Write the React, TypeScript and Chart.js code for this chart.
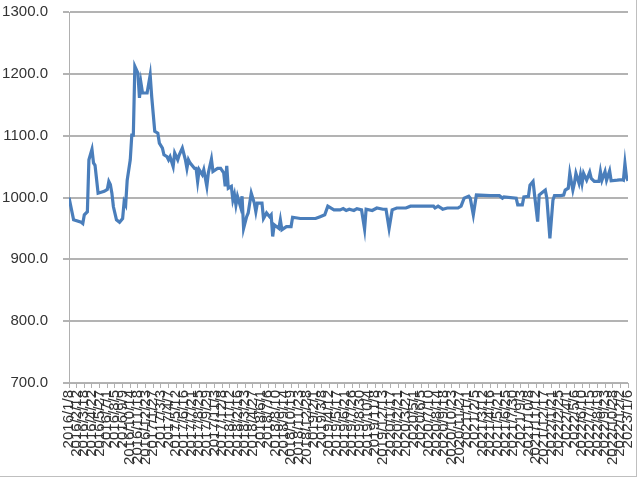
import { useEffect, useRef } from "react";
import { Chart, registerables } from "chart.js";

Chart.register(...registerables);

// x-axis tick labels (one every 5 weeks)
const tickDates = [
  "2016/1/8", "2016/2/12", "2016/3/18", "2016/4/22", "2016/5/27", "2016/7/1", "2016/8/5", "2016/9/9",
  "2016/10/14", "2016/11/18", "2016/12/23", "2017/1/27", "2017/3/3", "2017/4/7", "2017/5/12", "2017/6/16",
  "2017/7/21", "2017/8/25", "2017/9/29", "2017/11/3", "2017/12/8", "2018/1/12", "2018/2/16", "2018/3/23",
  "2018/4/27", "2018/6/1", "2018/7/6", "2018/8/10", "2018/9/14", "2018/10/19", "2018/11/23", "2018/12/28",
  "2019/2/1", "2019/3/8", "2019/4/12", "2019/5/17", "2019/6/21", "2019/7/26", "2019/8/30", "2019/10/4",
  "2019/11/8", "2019/12/13", "2020/1/17", "2020/2/21", "2020/3/27", "2020/5/1", "2020/6/5", "2020/7/10",
  "2020/8/14", "2020/9/18", "2020/10/23", "2020/11/27", "2021/1/1", "2021/2/5", "2021/3/12", "2021/4/16",
  "2021/5/21", "2021/6/25", "2021/7/30", "2021/9/3", "2021/10/8", "2021/11/12", "2021/12/17", "2022/1/21",
  "2022/2/25", "2022/4/1", "2022/5/6", "2022/6/10", "2022/7/15", "2022/8/19", "2022/9/23", "2022/10/28",
  "2022/12/2", "2023/1/6",
];
const weeksPerTick = 5;

// observations: week index since 2016/1/8, and value
const sampleWeeks = [
  0, 3, 8, 9, 10, 12, 13, 15, 16, 17, 19, 23, 25, 26, 27, 28, 29, 31, 33, 35,
  36, 37, 38, 40, 41, 42, 43, 45, 46, 47, 48, 51, 53, 54, 56, 58, 59, 61, 62, 64,
  65, 66, 68, 69, 71, 72, 74, 76, 77, 78, 79, 82, 83, 84, 85, 87, 88, 90, 91, 93,
  94, 97, 99, 101, 102, 103, 104, 106, 107, 108, 109, 110, 112, 113, 114, 116, 117, 119, 121, 122,
  123, 126, 127, 129, 131, 132, 133, 134, 137, 138, 139, 142, 145, 146, 151, 161, 164, 167, 169, 173,
  177, 179, 181, 183, 186, 188, 191, 193, 194, 198, 201, 205, 207, 209, 211, 214, 220, 223, 238, 239,
  241, 243, 244, 247, 254, 256, 258, 261, 262, 264, 266, 275, 281, 283, 284, 292, 293, 296, 297, 300,
  301, 303, 304, 306, 307, 310, 311, 312, 314, 316, 317, 321, 323, 324, 326, 327, 329, 330, 331, 333,
  334, 335, 336, 338, 340, 341, 343, 346, 347, 348, 350, 351, 353, 354, 358, 361, 362, 363, 364, 365,
];
const navValues = [
  1000, 964, 960, 958, 972, 977, 1061, 1078, 1056, 1052, 1007, 1010, 1013, 1026, 1021, 1007, 985, 964, 960, 966,
  993, 988, 1028, 1061, 1101, 1101, 1212, 1201, 1161, 1185, 1169, 1169, 1198, 1163, 1107, 1104, 1088, 1080, 1069, 1066,
  1061, 1066, 1050, 1072, 1061, 1069, 1080, 1061, 1047, 1061, 1056, 1047, 1047, 1026, 1045, 1037, 1045, 1018, 1040, 1062,
  1042, 1047, 1047, 1040, 1018, 1051, 1015, 1018, 996, 1005, 988, 1002, 985, 1002, 950, 969, 975, 1007, 991, 977,
  991, 991, 966, 975, 969, 972, 937, 956, 950, 964, 948, 953, 953, 968, 966, 966, 969, 972, 986, 980,
  980, 982, 979, 981, 979, 982, 980, 949, 981, 979, 983, 981, 981, 950, 980, 983, 983, 986, 986, 983,
  986, 983, 981, 983, 983, 986, 999, 1002, 999, 972, 1004, 1003, 1003, 999, 1001, 999, 988, 988, 1001, 1002,
  1020, 1026, 1004, 961, 1004, 1010, 1012, 999, 934, 996, 1003, 1003, 1004, 1012, 1015, 1039, 1012, 1023, 1039, 1023,
  1037, 1023, 1039, 1028, 1041, 1031, 1026, 1026, 1042, 1028, 1042, 1028, 1043, 1027, 1028, 1029, 1028, 1055, 1033, 1027,
];

const fontSpec = { family: "'Liberation Sans', Arial, sans-serif", size: 15 };
const textColor = "#333333";

export default function App() {
  const ref = useRef<HTMLCanvasElement>(null);

  useEffect(() => {
    document.body.style.margin = "0";
    const canvas = ref.current;
    if (!canvas) return;
    const chart = new Chart(canvas, {
      type: "line",
      data: {
        datasets: [
          {
            data: sampleWeeks.map((w, i) => ({ x: w, y: navValues[i] })),
            borderColor: "#4a7ebb",
            borderWidth: 3.2,
            pointRadius: 0,
            tension: 0,
            fill: false,
          },
        ],
      },
      options: {
        animation: false,
        responsive: false,
        maintainAspectRatio: false,
        layout: { padding: { top: 12, right: 12, left: 0, bottom: 0 } },
        plugins: { legend: { display: false }, tooltip: { enabled: false } },
        scales: {
          x: {
            type: "linear",
            min: 0,
            max: (tickDates.length - 1) * weeksPerTick,
            afterBuildTicks: (s: any) => {
              s.ticks = tickDates.map((_, i) => ({ value: i * weeksPerTick }));
            },
            afterFit: (s: any) => {
              s.height = 97;
              s.paddingLeft = 0;
              s.paddingRight = 0;
            },
            ticks: {
              autoSkip: false,
              maxRotation: 90,
              minRotation: 90,
              padding: 2,
              font: fontSpec,
              color: textColor,
              callback: (v: any) => tickDates[Math.round(Number(v) / weeksPerTick)],
            },
            grid: { drawOnChartArea: false, drawTicks: true, tickLength: 5, color: "#b0b0b0" },
            border: { color: "#b0b0b0", width: 1 },
          },
          y: {
            min: 700,
            max: 1300,
            afterFit: (s: any) => {
              s.width = 69;
              s.paddingTop = 0;
              s.paddingBottom = 0;
            },
            ticks: {
              stepSize: 100,
              padding: 15,
              font: fontSpec,
              color: textColor,
              callback: (v: any) => Number(v).toFixed(1),
            },
            grid: { color: "#b3b3b3", lineWidth: 2, tickLength: 6 },
            border: { color: "#b0b0b0", width: 1 },
          },
        },
      },
    } as any);
    return () => chart.destroy();
  }, []);

  return (
    <div style={{ position: "relative", width: 640, height: 480, overflow: "hidden" }}>
      <canvas ref={ref} width={640} height={480} style={{ display: "block" }} />
      <div
        style={{
          position: "absolute",
          left: 0,
          top: 0,
          width: 636,
          height: 476,
          borderRight: "1px solid #bfbfbf",
          borderBottom: "1px solid #bfbfbf",
          pointerEvents: "none",
        }}
      />
    </div>
  );
}
